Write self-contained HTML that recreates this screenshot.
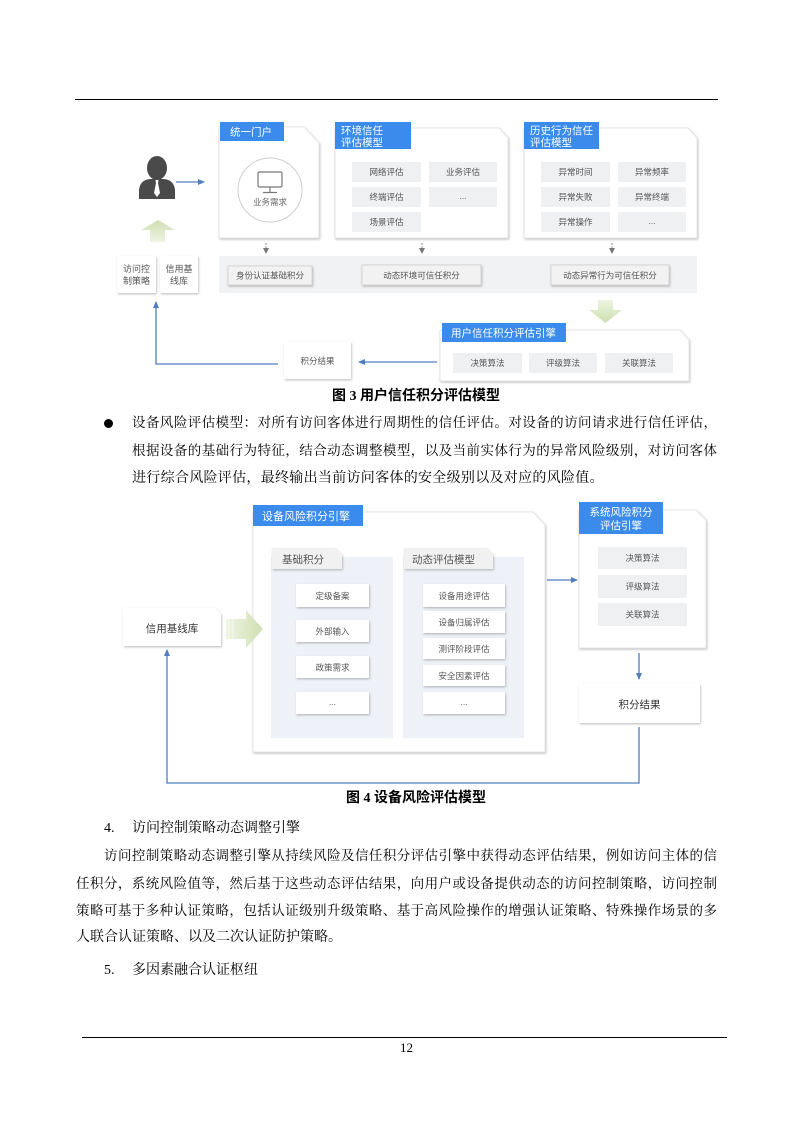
<!DOCTYPE html>
<html><head><meta charset="utf-8">
<style>
html,body{margin:0;padding:0;background:#fff;}
body{width:793px;height:1122px;position:relative;overflow:hidden;}
svg{position:absolute;left:0;top:0;}
.t{position:absolute;font-family:"Liberation Serif","Noto Serif CJK SC",serif;font-size:14px;color:#000;line-height:20px;white-space:nowrap;}
.j{font-size:13.5px;white-space:normal;text-align:justify;text-align-last:justify;text-justify:inter-character;height:20px;overflow:visible;}
</style></head><body>
<svg width="793" height="1122" viewBox="0 0 793 1122" xmlns="http://www.w3.org/2000/svg">
<defs>
<filter id="sh" x="-20%" y="-20%" width="140%" height="150%"><feDropShadow dx="0.8" dy="1.2" stdDeviation="1.1" flood-color="#000" flood-opacity="0.25"/></filter>
<marker id="ab" markerWidth="8" markerHeight="8" refX="6" refY="4" orient="auto" markerUnits="userSpaceOnUse"><path d="M0,1 L7,4 L0,7 Z" fill="#4f7fc0"/></marker>
<marker id="ag" markerWidth="7" markerHeight="7" refX="5" refY="3.5" orient="auto" markerUnits="userSpaceOnUse"><path d="M0,0.5 L6,3.5 L0,6.5 Z" fill="#777"/></marker>
<linearGradient id="gv" x1="0" y1="1" x2="0" y2="0"><stop offset="0" stop-color="#eef4e2"/><stop offset="1" stop-color="#cfdfb2"/></linearGradient>
<linearGradient id="gd" x1="0" y1="0" x2="0" y2="1"><stop offset="0" stop-color="#eef4e2"/><stop offset="1" stop-color="#cddeae"/></linearGradient>
<linearGradient id="gh" x1="0" y1="0" x2="1" y2="0"><stop offset="0" stop-color="#eef4e2"/><stop offset="1" stop-color="#cfdfb2"/></linearGradient>
</defs>

<line x1="75" y1="99.5" x2="718" y2="99.5" stroke="#000" stroke-width="1"/>
<line x1="82" y1="1037.5" x2="727" y2="1037.5" stroke="#000" stroke-width="1"/>

<g font-family="Liberation Sans,Noto Sans CJK SC,sans-serif">
<!-- ===== FIG 3 ===== -->
<ellipse cx="157" cy="168" rx="10" ry="12" fill="#4a4a4a"/>
<path d="M139,199 L139,190 Q140,180 150,179 L164,179 Q174,180 175,190 L175,199 Z" fill="#4a4a4a"/>
<path d="M155.5,180 L158.5,180 L158,183 L160,193 L157,197 L154,193 L156,183 Z" fill="#fff"/>
<line x1="176" y1="182" x2="204" y2="182" stroke="#4f7fc0" stroke-width="1.3" marker-end="url(#ab)"/>
<path d="M150,242 L150,230 L141,230 L158,220 L175,230 L165,230 L165,242 Z" fill="url(#gv)"/>
<rect x="117" y="256" width="39" height="37" fill="#fff" filter="url(#sh)"/>
<rect x="160" y="256" width="38" height="37" fill="#fff" filter="url(#sh)"/>
<g font-size="9" fill="#555" text-anchor="middle">
<text x="136.5" y="272">访问控</text><text x="136.5" y="284">制策略</text>
<text x="179" y="272">信用基</text><text x="179" y="284">线库</text>
</g>
<path d="M219,127 H304 L319,143 V238 H219 Z" fill="#fff" stroke="#e0e0e0" stroke-width="0.8" filter="url(#sh)"/>
<rect x="220" y="122" width="64" height="19" fill="#3a8bec"/>
<text x="230" y="135.5" font-size="10.5" fill="#fff">统一门户</text>
<circle cx="270" cy="190" r="32" fill="#fff" stroke="#cfcfcf" stroke-width="1"/>
<rect x="258" y="172" width="24" height="15" rx="1.5" fill="none" stroke="#777" stroke-width="1.2"/>
<line x1="270" y1="187" x2="270" y2="192" stroke="#777" stroke-width="1.2"/>
<line x1="263" y1="192.5" x2="277" y2="192.5" stroke="#777" stroke-width="1.2"/>
<text x="270" y="205" font-size="8.5" fill="#666" text-anchor="middle">业务需求</text>

<path d="M335,128 H499 L508,138 V238 H335 Z" fill="#fff" stroke="#e0e0e0" stroke-width="0.8" filter="url(#sh)"/>
<rect x="335" y="122" width="76" height="27" fill="#3a8bec"/>
<text x="341" y="134" font-size="10.5" fill="#fff">环境信任</text>
<text x="341" y="146" font-size="10.5" fill="#fff">评估模型</text>
<g fill="#eff0f2">
<rect x="352" y="162" width="69" height="20"/><rect x="429" y="162" width="68" height="20"/>
<rect x="352" y="187" width="69" height="20"/><rect x="429" y="187" width="68" height="20"/>
<rect x="352" y="212" width="69" height="20"/>
</g>
<g font-size="8.5" fill="#555" text-anchor="middle">
<text x="386.5" y="175">网络评估</text><text x="463" y="175">业务评估</text>
<text x="386.5" y="200">终端评估</text><text x="463" y="199">...</text>
<text x="386.5" y="225">场景评估</text>
</g>

<path d="M524,128 H688 L697,138 V238 H524 Z" fill="#fff" stroke="#e0e0e0" stroke-width="0.8" filter="url(#sh)"/>
<rect x="524" y="122" width="75" height="27" fill="#3a8bec"/>
<text x="530" y="134" font-size="10.5" fill="#fff">历史行为信任</text>
<text x="530" y="146" font-size="10.5" fill="#fff">评估模型</text>
<g fill="#eff0f2">
<rect x="541" y="162" width="69" height="20"/><rect x="618" y="162" width="68" height="20"/>
<rect x="541" y="187" width="69" height="20"/><rect x="618" y="187" width="68" height="20"/>
<rect x="541" y="212" width="69" height="20"/><rect x="618" y="212" width="68" height="20"/>
</g>
<g font-size="8.5" fill="#555" text-anchor="middle">
<text x="575.5" y="175">异常时间</text><text x="652" y="175">异常频率</text>
<text x="575.5" y="200">异常失败</text><text x="652" y="200">异常终端</text>
<text x="575.5" y="225">异常操作</text><text x="652" y="224">...</text>
</g>

<g stroke="#888" stroke-width="1" stroke-dasharray="2,1.5">
<line x1="266" y1="243" x2="266" y2="253" marker-end="url(#ag)"/>
<line x1="422" y1="243" x2="422" y2="253" marker-end="url(#ag)"/>
<line x1="612" y1="243" x2="612" y2="253" marker-end="url(#ag)"/>
</g>
<rect x="219" y="256" width="478" height="37" fill="#f1f2f4"/>
<g fill="#f2f2f2" stroke="#cfcfcf" stroke-width="0.8" filter="url(#sh)">
<rect x="228" y="266" width="84" height="19"/>
<rect x="362" y="265" width="119" height="20"/>
<rect x="551" y="265" width="118" height="20"/>
</g>
<g font-size="8.5" fill="#555" text-anchor="middle">
<text x="270" y="278.5">身份认证基础积分</text>
<text x="421.5" y="278.5">动态环境可信任积分</text>
<text x="610" y="278.5">动态异常行为可信任积分</text>
</g>

<path d="M598,300 L613,300 L613,310 L622,310 L605.5,323 L589,310 L598,310 Z" fill="url(#gd)"/>

<path d="M440,330 H680 L689,340 V381 H440 Z" fill="#fff" stroke="#e0e0e0" stroke-width="0.8" filter="url(#sh)"/>
<rect x="442" y="323" width="124" height="19" fill="#3a8bec"/>
<text x="451" y="336.5" font-size="10.5" fill="#fff">用户信任积分评估引擎</text>
<g fill="#eff0f2">
<rect x="453" y="353" width="69" height="20"/><rect x="529" y="353" width="68" height="20"/><rect x="605" y="353" width="68" height="20"/>
</g>
<g font-size="8.5" fill="#555" text-anchor="middle">
<text x="487.5" y="366">决策算法</text><text x="563" y="366">评级算法</text><text x="639" y="366">关联算法</text>
</g>

<rect x="284" y="342" width="67" height="37" fill="#fff" filter="url(#sh)"/>
<text x="317.5" y="364" font-size="8.5" fill="#555" text-anchor="middle">积分结果</text>
<line x1="437" y1="362" x2="359" y2="362" stroke="#4f7fc0" stroke-width="1.3" marker-end="url(#ab)"/>
<polyline points="278,364 156,364 156,302" fill="none" stroke="#4f7fc0" stroke-width="1.3" marker-end="url(#ab)"/>

<text x="416" y="400" font-size="14" font-weight="bold" fill="#000" text-anchor="middle" font-family="Liberation Serif,Noto Sans CJK SC,sans-serif">图 3  用户信任积分评估模型</text>

<!-- ===== FIG 4 ===== -->
<path d="M253,512 H533 L545,525 V752 H253 Z" fill="#fff" stroke="#e0e0e0" stroke-width="0.8" filter="url(#sh)"/>
<rect x="253" y="505" width="110" height="21" fill="#3a8bec"/>
<text x="262" y="520" font-size="11" fill="#fff">设备风险积分引擎</text>

<rect x="271" y="557" width="122" height="181" fill="#eef1f7"/>
<rect x="403" y="557" width="121" height="181" fill="#eef1f7"/>
<path d="M272,548 H335 L342,555 V569 H272 Z" fill="#f1f1f1" filter="url(#sh)"/>
<path d="M404,548 H486 L493,555 V569 H404 Z" fill="#f1f1f1" filter="url(#sh)"/>
<text x="282" y="563" font-size="10.5" fill="#555">基础积分</text>
<text x="412" y="563" font-size="10.5" fill="#555">动态评估模型</text>

<g fill="#fff" filter="url(#sh)">
<rect x="296" y="584" width="73" height="23"/>
<rect x="296" y="620" width="73" height="22"/>
<rect x="296" y="656" width="73" height="22"/>
<rect x="296" y="692" width="73" height="22"/>
<rect x="423" y="584" width="82" height="23"/>
<rect x="423" y="611" width="82" height="22"/>
<rect x="423" y="638" width="82" height="21"/>
<rect x="423" y="665" width="82" height="21"/>
<rect x="423" y="692" width="82" height="22"/>
</g>
<g font-size="8.5" fill="#555" text-anchor="middle">
<text x="332.5" y="599">定级备案</text>
<text x="332.5" y="634.5">外部输入</text>
<text x="332.5" y="670.5">政策需求</text>
<text x="332.5" y="705">...</text>
<text x="464" y="599">设备用途评估</text>
<text x="464" y="625.5">设备归属评估</text>
<text x="464" y="652">测评阶段评估</text>
<text x="464" y="679">安全因素评估</text>
<text x="464" y="705">...</text>
</g>

<path d="M123,608 H215 L221,614 V646 H123 Z" fill="#fff" filter="url(#sh)"/>
<text x="172" y="632" font-size="10.5" fill="#333" text-anchor="middle">信用基线库</text>
<path d="M226,619 L246,619 L246,610 L263,629 L246,648 L246,639 L226,639 Z" fill="url(#gh)"/>
<g stroke="#fff" stroke-width="0.8" opacity="0.8"><line x1="229" y1="619" x2="229" y2="639"/><line x1="233" y1="619" x2="233" y2="639"/></g>

<line x1="547" y1="580" x2="577" y2="580" stroke="#4f7fc0" stroke-width="1.3" marker-end="url(#ab)"/>

<path d="M579,510 H696 L706,520 V648 H579 Z" fill="#fff" stroke="#e0e0e0" stroke-width="0.8" filter="url(#sh)"/>
<rect x="579" y="502" width="84" height="32" fill="#3a8bec"/>
<text x="621" y="515.5" font-size="10.5" fill="#fff" text-anchor="middle">系统风险积分</text>
<text x="621" y="529" font-size="10.5" fill="#fff" text-anchor="middle">评估引擎</text>
<g fill="#eff0f2">
<rect x="598" y="547" width="89" height="22"/><rect x="598" y="575" width="89" height="23"/><rect x="598" y="603" width="89" height="23"/>
</g>
<g font-size="8.5" fill="#555" text-anchor="middle">
<text x="642.5" y="561">决策算法</text><text x="642.5" y="589.5">评级算法</text><text x="642.5" y="617.5">关联算法</text>
</g>
<line x1="639" y1="653" x2="639" y2="679" stroke="#4f7fc0" stroke-width="1.3" marker-end="url(#ab)"/>
<rect x="579" y="684" width="121" height="39" fill="#fff" filter="url(#sh)"/>
<text x="639.5" y="708" font-size="10.5" fill="#333" text-anchor="middle">积分结果</text>
<polyline points="639,727 639,783 167,783 167,650" fill="none" stroke="#4f7fc0" stroke-width="1.3" marker-end="url(#ab)"/>

<text x="416" y="802" font-size="14" font-weight="bold" fill="#000" text-anchor="middle" font-family="Liberation Serif,Noto Sans CJK SC,sans-serif">图 4 设备风险评估模型</text>
</g>
</svg>

<div style="position:absolute;left:104px;top:419px;width:9px;height:9px;border-radius:50%;background:#000;"></div>
<div class="t j" style="left:132px;top:413px;width:585px;">设备风险评估模型：对所有访问客体进行周期性的信任评估。对设备的访问请求进行信任评估，</div>
<div class="t j" style="left:132px;top:441px;width:585px;">根据设备的基础行为特征，结合动态调整模型，以及当前实体行为的异常风险级别，对访问客体</div>
<div class="t" style="left:132px;top:469px;letter-spacing:0.3px;">进行综合风险评估，最终输出当前访问客体的安全级别以及对应的风险值。</div>

<div class="t" style="left:104px;top:819px;">4.</div>
<div class="t" style="left:132px;top:819px;">访问控制策略动态调整引擎</div>
<div class="t j" style="left:104px;top:846px;width:613px;">访问控制策略动态调整引擎从持续风险及信任积分评估引擎中获得动态评估结果，例如访问主体的信</div>
<div class="t j" style="left:76px;top:874px;width:641px;">任积分，系统风险值等，然后基于这些动态评估结果，向用户或设备提供动态的访问控制策略，访问控制</div>
<div class="t j" style="left:76px;top:901px;width:641px;">策略可基于多种认证策略，包括认证级别升级策略、基于高风险操作的增强认证策略、特殊操作场景的多</div>
<div class="t" style="left:76px;top:928px;">人联合认证策略、以及二次认证防护策略。</div>

<div class="t" style="left:104px;top:961px;">5.</div>
<div class="t" style="left:132px;top:961px;">多因素融合认证枢纽</div>

<div class="t" style="left:400px;top:1038px;font-size:13px;">12</div>
</body></html>
